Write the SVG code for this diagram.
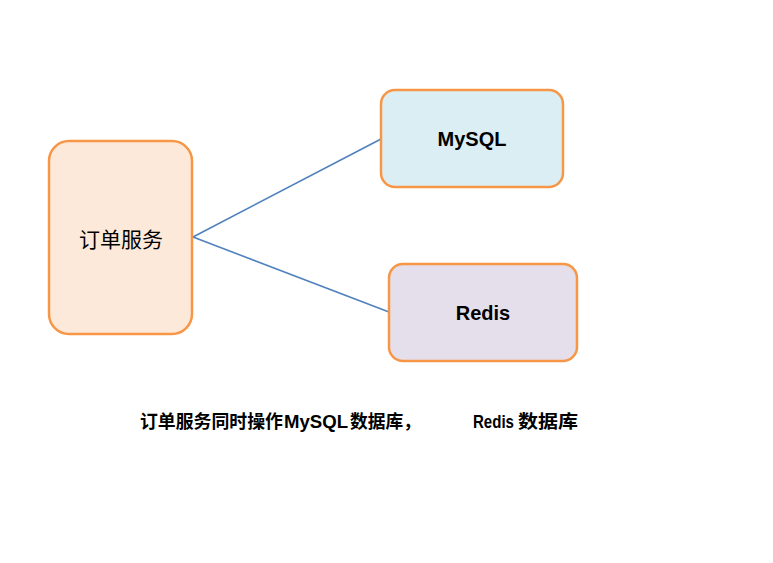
<svg xmlns="http://www.w3.org/2000/svg" width="773" height="563" viewBox="0 0 773 563">
<style>
.box{stroke:#F79646;stroke-width:2.5}
.lbl{font-family:"Liberation Sans","Noto Sans CJK SC",sans-serif;font-weight:bold;font-size:20px;fill:#000;text-anchor:middle;dominant-baseline:central}
.cjk{font-family:"Noto Sans CJK SC",sans-serif;font-size:21px;fill:#000;text-anchor:middle;dominant-baseline:central}
.cap{font-family:"Noto Sans CJK SC",sans-serif;font-size:18px;font-weight:bold;fill:#000}
.capl{font-family:"Liberation Sans",sans-serif;font-size:18px;font-weight:bold;fill:#000}
.edge{stroke:#4F81BD;stroke-width:1.6;fill:none}
</style>
<rect width="773" height="563" fill="#fff"/>
<g id="connectors">
<line class="edge" x1="193" y1="237" x2="381" y2="139"/>
<line class="edge" x1="193" y1="237" x2="389" y2="312"/>
</g>
<g id="order">
<rect class="box" x="49" y="141" width="143" height="193" rx="20" fill="#FDE9D9"/>
<text class="cjk" x="121" y="238">订单服务</text>
</g>
<g id="mysql">
<rect class="box" x="381" y="90" width="182" height="97" rx="14" fill="#DAEEF3"/>
<text class="lbl" x="472" y="139">MySQL</text>
</g>
<g id="redis">
<rect class="box" x="389" y="264" width="188" height="97" rx="14" fill="#E5DFEC"/>
<text class="lbl" x="483" y="313">Redis</text>
</g>
<g id="caption">
<text class="cap" x="140" y="428" textLength="143" lengthAdjust="spacingAndGlyphs">订单服务同时操作</text>
<text class="capl" x="284" y="428" textLength="64" lengthAdjust="spacingAndGlyphs">MySQL</text>
<text class="cap" x="350" y="428" textLength="71" lengthAdjust="spacingAndGlyphs">数据库，</text>
<text class="capl" x="473" y="428" textLength="41" lengthAdjust="spacingAndGlyphs">Redis</text>
<text class="cap" x="518" y="428" textLength="60" lengthAdjust="spacingAndGlyphs">数据库</text>
</g>
</svg>
